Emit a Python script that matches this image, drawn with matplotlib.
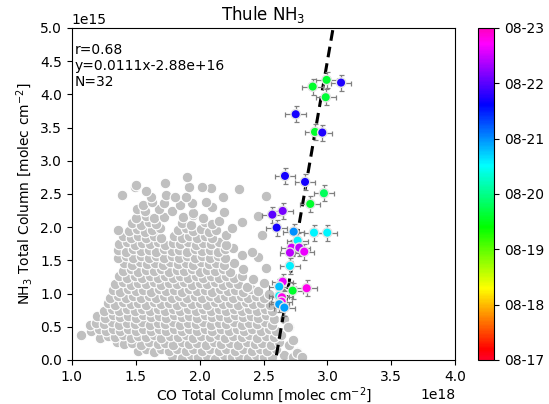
import matplotlib
matplotlib.use("Agg")
import matplotlib.pyplot as plt
import matplotlib.dates as mdates
import matplotlib.ticker as mticker
import numpy as np
import pandas as pd

# ---- background cloud (CO in 1e18, NH3 in 1e15) ----
bg_points = [
    (1.78,0.06),(1.86,0.03),(1.93,0.07),(1.99,0.04),(2.06,0.06),(2.12,0.02),(2.19,0.07),(2.25,0.04),(2.31,0.06),(2.38,0.03),(2.44,0.07),(2.50,0.04),(2.57,0.05),(2.66,0.07),(2.73,0.04),
    (1.52,0.14),(1.58,0.17),(1.64,0.12),(1.70,0.16),(1.76,0.13),(1.82,0.17),(1.89,0.14),(1.95,0.16),(2.02,0.13),(2.08,0.17),(2.15,0.14),(2.21,0.16),(2.28,0.13),(2.34,0.17),(2.41,0.14),(2.47,0.16),(2.53,0.13),(2.60,0.16),(2.76,0.12),
    (1.35,0.27),(1.41,0.24),(1.47,0.26),(1.54,0.23),(1.60,0.27),(1.67,0.24),(1.73,0.26),(1.79,0.23),(1.86,0.27),(1.92,0.24),(1.98,0.26),(2.05,0.23),(2.11,0.27),(2.17,0.24),(2.24,0.26),(2.30,0.23),(2.37,0.27),(2.43,0.24),(2.49,0.26),(2.56,0.23),(2.62,0.27),(2.70,0.22),
    (1.07,0.38),(1.22,0.33),(1.28,0.36),(1.34,0.34),(1.40,0.37),(1.46,0.33),(1.52,0.36),(1.58,0.34),(1.64,0.37),(1.70,0.33),(1.77,0.36),(1.83,0.34),(1.89,0.37),(1.95,0.33),(2.01,0.36),(2.08,0.34),(2.14,0.37),(2.20,0.33),(2.26,0.36),(2.33,0.34),(2.39,0.37),(2.45,0.33),(2.52,0.36),(2.58,0.34),(2.64,0.37),
    (1.15,0.44),(1.21,0.47),(1.27,0.43),(1.32,0.46),(1.38,0.44),(1.44,0.47),(1.50,0.43),(1.56,0.46),(1.62,0.44),(1.68,0.47),(1.74,0.43),(1.80,0.46),(1.86,0.44),(1.92,0.47),(1.98,0.43),(2.04,0.46),(2.10,0.44),(2.17,0.47),(2.23,0.43),(2.29,0.46),(2.35,0.44),(2.41,0.47),(2.48,0.43),(2.54,0.46),(2.60,0.44),(2.70,0.50),
    (1.14,0.53),(1.19,0.56),(1.25,0.54),(1.31,0.57),(1.37,0.53),(1.43,0.56),(1.49,0.54),(1.55,0.57),(1.61,0.53),(1.67,0.56),(1.73,0.54),(1.79,0.57),(1.85,0.53),(1.91,0.56),(1.97,0.54),(2.03,0.57),(2.09,0.53),(2.15,0.56),(2.21,0.54),(2.27,0.57),(2.33,0.53),(2.39,0.56),(2.45,0.54),(2.51,0.57),(2.57,0.53),
    (1.20,0.66),(1.26,0.63),(1.32,0.67),(1.38,0.64),(1.44,0.66),(1.50,0.63),(1.56,0.67),(1.62,0.64),(1.68,0.66),(1.74,0.63),(1.80,0.67),(1.86,0.64),(1.92,0.66),(1.98,0.63),(2.04,0.67),(2.10,0.64),(2.16,0.66),(2.22,0.63),(2.28,0.67),(2.34,0.64),(2.40,0.66),(2.46,0.63),(2.52,0.67),(2.58,0.61),(2.66,0.62),
    (1.25,0.74),(1.31,0.77),(1.37,0.73),(1.43,0.76),(1.49,0.74),(1.55,0.77),(1.61,0.73),(1.67,0.76),(1.73,0.74),(1.79,0.77),(1.85,0.73),(1.91,0.76),(1.97,0.74),(2.03,0.77),(2.09,0.73),(2.15,0.76),(2.21,0.74),(2.27,0.77),(2.33,0.73),(2.39,0.76),(2.45,0.74),(2.51,0.77),(2.57,0.73),
    (1.28,0.86),(1.34,0.83),(1.40,0.87),(1.46,0.84),(1.52,0.86),(1.58,0.83),(1.64,0.87),(1.70,0.84),(1.76,0.86),(1.82,0.83),(1.88,0.87),(1.94,0.84),(2.00,0.86),(2.06,0.83),(2.12,0.87),(2.18,0.84),(2.24,0.86),(2.30,0.83),(2.36,0.87),(2.42,0.84),(2.48,0.86),(2.55,0.83),
    (1.30,0.94),(1.36,0.97),(1.42,0.93),(1.48,0.96),(1.54,0.94),(1.60,0.97),(1.66,0.93),(1.72,0.96),(1.78,0.94),(1.84,0.97),(1.90,0.93),(1.96,0.96),(2.02,0.94),(2.08,0.97),(2.14,0.93),(2.20,0.96),(2.26,0.94),(2.32,0.97),(2.38,0.93),(2.44,0.96),(2.50,0.94),(2.54,0.99),
    (1.32,1.06),(1.38,1.03),(1.44,1.07),(1.50,1.04),(1.56,1.06),(1.62,1.03),(1.68,1.07),(1.74,1.04),(1.80,1.06),(1.86,1.03),(1.92,1.07),(1.98,1.04),(2.04,1.06),(2.10,1.03),(2.16,1.07),(2.22,1.04),(2.28,1.06),(2.34,1.03),(2.40,1.07),(2.46,1.04),
    (1.34,1.14),(1.40,1.17),(1.46,1.13),(1.52,1.16),(1.58,1.14),(1.64,1.17),(1.70,1.13),(1.76,1.16),(1.82,1.14),(1.88,1.17),(1.94,1.13),(2.00,1.16),(2.06,1.14),(2.12,1.17),(2.18,1.13),(2.24,1.16),(2.30,1.14),(2.37,1.10),(2.50,1.16),
    (1.37,1.26),(1.43,1.23),(1.49,1.27),(1.55,1.24),(1.61,1.26),(1.67,1.23),(1.73,1.27),(1.79,1.24),(1.85,1.26),(1.91,1.23),(1.97,1.27),(2.03,1.24),(2.09,1.26),(2.15,1.23),(2.21,1.27),(2.27,1.24),(2.33,1.26),(2.42,1.22),
    (1.40,1.34),(1.46,1.37),(1.52,1.33),(1.58,1.36),(1.64,1.34),(1.70,1.37),(1.76,1.33),(1.82,1.36),(1.88,1.34),(1.94,1.37),(2.00,1.33),(2.06,1.36),(2.12,1.34),(2.18,1.37),(2.24,1.33),(2.34,1.37),(2.52,1.38),
    (1.41,1.46),(1.47,1.43),(1.53,1.47),(1.59,1.44),(1.65,1.46),(1.71,1.43),(1.77,1.47),(1.83,1.44),(1.89,1.46),(1.95,1.43),(2.01,1.47),(2.07,1.44),(2.13,1.46),(2.19,1.43),(2.27,1.46),
    (1.36,1.54),(1.42,1.57),(1.48,1.53),(1.54,1.56),(1.60,1.54),(1.66,1.57),(1.72,1.53),(1.78,1.56),(1.84,1.54),(1.90,1.57),(1.96,1.53),(2.02,1.56),(2.08,1.54),(2.14,1.57),(2.20,1.53),(2.33,1.58),(2.46,1.55),
    (1.36,1.66),(1.42,1.63),(1.48,1.67),(1.54,1.64),(1.60,1.66),(1.66,1.63),(1.72,1.67),(1.78,1.64),(1.84,1.66),(1.90,1.63),(1.96,1.67),(2.02,1.64),(2.08,1.66),(2.14,1.63),(2.20,1.67),(2.26,1.69),(2.41,1.62),
    (1.37,1.74),(1.43,1.77),(1.49,1.73),(1.55,1.76),(1.61,1.74),(1.67,1.77),(1.73,1.73),(1.79,1.76),(1.85,1.74),(1.91,1.77),(1.97,1.73),(2.03,1.76),(2.09,1.74),(2.15,1.77),(2.21,1.73),
    (1.40,1.86),(1.46,1.83),(1.52,1.87),(1.58,1.84),(1.64,1.86),(1.70,1.83),(1.80,1.87),(1.86,1.84),(1.92,1.86),(1.98,1.83),(2.04,1.87),(2.10,1.84),(2.21,1.88),(2.49,1.88),
    (1.36,1.96),(1.45,1.94),(1.51,1.97),(1.57,1.93),(1.63,1.96),(1.69,1.99),(1.83,1.95),(1.89,1.98),(1.95,1.94),(2.01,1.97),(2.07,1.93),(2.13,1.96),(2.25,1.98),
    (1.47,2.06),(1.54,2.03),(1.60,2.07),(1.66,2.04),(1.86,2.06),(1.93,2.03),(2.04,2.08),(2.10,2.05),(2.15,2.09),(2.33,2.08),
    (1.50,2.14),(1.58,2.17),(1.64,2.13),(1.72,2.16),(1.87,2.15),(1.95,2.18),(2.03,2.13),(2.46,2.17),
    (1.51,2.28),(1.57,2.24),(1.68,2.28),(1.78,2.25),(1.95,2.22),(2.19,2.23),(2.10,2.30),
    (1.56,2.34),(1.63,2.38),(1.72,2.36),(1.85,2.33),(1.94,2.36),(2.05,2.38),
    (1.39,2.49),(1.62,2.45),(1.74,2.48),(1.81,2.46),(1.89,2.46),(2.18,2.45),(2.52,2.47),
    (1.49,2.60),(1.58,2.55),(1.73,2.66),(2.09,2.585),(2.31,2.575),(1.50,2.64),(1.92,2.61),(2.02,2.61),(1.90,2.76),
    (2.69,0.50),(2.76,0.10),(2.73,0.30),(2.80,0.05),
]
bg_co = [p[0] * 1e18 for p in bg_points]
bg_nh3 = [p[1] * 1e15 for p in bg_points]

# ---- Thule plume points ----
co = [2.885, 2.994, 3.107, 2.987, 2.752, 2.903, 2.960, 2.668, 2.825, 2.973,
      2.866, 2.650, 2.569, 2.603, 2.736, 2.895, 2.999, 2.767, 2.720, 2.780,
      2.707, 2.819, 2.707, 2.650, 2.623, 2.728, 2.838, 2.623, 2.644, 2.642,
      2.623, 2.663]
nh3 = [4.116, 4.217, 4.176, 3.956, 3.700, 3.434, 3.424, 2.771, 2.681, 2.510,
       2.349, 2.244, 2.188, 1.993, 1.932, 1.917, 1.917, 1.797, 1.691, 1.691,
       1.616, 1.631, 1.416, 1.179, 1.104, 1.044, 1.080, 0.964, 0.944, 0.878,
       0.839, 0.788]
dates = ["2017-08-19 14:00", "2017-08-19 14:30", "2017-08-21 18:00", "2017-08-19 15:00",
         "2017-08-21 17:00", "2017-08-19 14:00", "2017-08-21 18:00", "2017-08-21 17:00",
         "2017-08-21 17:00", "2017-08-19 19:00", "2017-08-19 14:00", "2017-08-22 03:00",
         "2017-08-22 00:00", "2017-08-21 17:00", "2017-08-21 00:00", "2017-08-20 13:00",
         "2017-08-20 13:00", "2017-08-20 14:00", "2017-08-22 12:00", "2017-08-22 10:00",
         "2017-08-22 10:00", "2017-08-22 15:00", "2017-08-20 14:00", "2017-08-22 15:00",
         "2017-08-20 19:00", "2017-08-19 14:00", "2017-08-22 19:00", "2017-08-20 14:00",
         "2017-08-22 19:00", "2017-08-22 18:00", "2017-08-20 22:00", "2017-08-20 22:00"]
co_err = [0.08] * 32
nh3_err = [0.12] * 32

fit_slope = 0.0111
fit_intercept = -2.88e16
stats_text = "r=0.68\ny=0.0111x-2.88e+16\nN=32"
cbar_start, cbar_end = "2017-08-17", "2017-08-23"

co_v = np.array(co) * 1e18
nh3_v = np.array(nh3) * 1e15
tnum = mdates.date2num(pd.to_datetime(dates).to_pydatetime())
vmin = mdates.date2num(pd.Timestamp(cbar_start).to_pydatetime())
vmax = mdates.date2num(pd.Timestamp(cbar_end).to_pydatetime())

fig = plt.figure(figsize=(5.49, 4.04), dpi=100)
ax = fig.add_axes([0.131, 0.109, 0.698, 0.822])
cax = fig.add_axes([0.871, 0.109, 0.029, 0.822])

ax.scatter(bg_co, bg_nh3, s=58, c="#c0c0c0", edgecolors="white", linewidths=0.8, zorder=1)

xl = np.array([1.0e18, 4.0e18])
ax.plot(xl, fit_slope * xl + fit_intercept, "k--", lw=2.2, dashes=(3.5, 2), zorder=3)

ax.errorbar(co_v, nh3_v, xerr=np.array(co_err) * 1e18, yerr=np.array(nh3_err) * 1e15,
            fmt="none", ecolor="gray", elinewidth=0.9, capsize=1.8, capthick=0.9, zorder=4)
sc = ax.scatter(co_v, nh3_v, c=tnum, cmap="gist_rainbow", vmin=vmin, vmax=vmax, s=46,
                edgecolors="#e4e4e4", linewidths=1.0, zorder=5)

ax.set_xlim(1.0e18, 4.0e18)
ax.set_ylim(0, 5.0e15)
ax.xaxis.set_major_locator(mticker.MultipleLocator(0.5e18))
ax.yaxis.set_major_locator(mticker.MultipleLocator(0.5e15))
ax.set_title("Thule NH$_3$", fontsize=12)
ax.set_xlabel("CO Total Column [molec cm$^{-2}$]", fontsize=10, labelpad=1)
ax.set_ylabel("NH$_3$ Total Column [molec cm$^{-2}$]", fontsize=10)
ax.tick_params(labelsize=10)
ax.text(0.008, 0.955, stats_text, transform=ax.transAxes, va="top", ha="left",
        fontsize=10, linespacing=1.2)

cb = fig.colorbar(sc, cax=cax)
cb.set_ticks(mdates.date2num(pd.date_range(cbar_start, cbar_end, freq="D").to_pydatetime()))
cb.ax.yaxis.set_major_formatter(mdates.DateFormatter("%m-%d"))
cb.ax.tick_params(labelsize=10)

fig.savefig("out.png", dpi=100)
